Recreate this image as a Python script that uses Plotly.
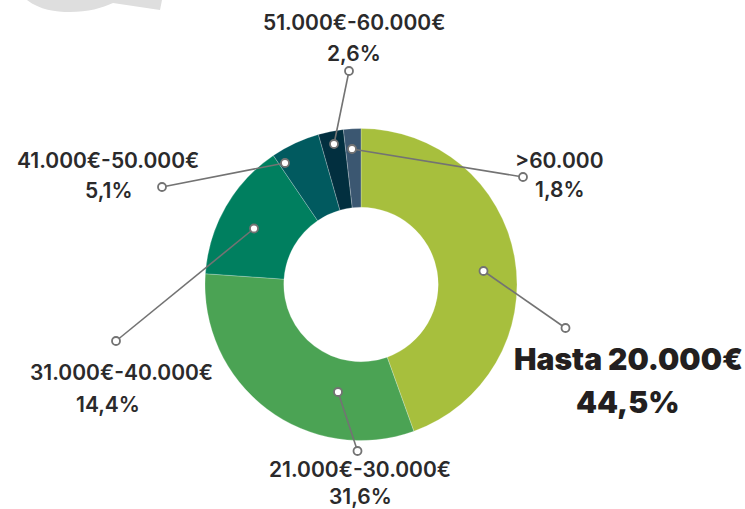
import plotly.graph_objects as go

# ---- data ----
categories = ["Hasta 20.000€", "21.000€-30.000€", "31.000€-40.000€",
              "41.000€-50.000€", "51.000€-60.000€", ">60.000"]
values = [44.5, 31.6, 14.4, 5.1, 2.6, 1.8]
pct_labels = ["44,5%", "31,6%", "14,4%", "5,1%", "2,6%", "1,8%"]

# ---- styles / layout config ----
colors = ["#a7bf3d", "#4ba354", "#007f5f", "#015a5f", "#022f3f", "#3b5771"]
W, H = 745, 509
cx, cy, R = 361, 284.5, 156

# leader lines: (inner point, outer point) in pixel space
leaders = [
    ((483.5, 271), (565.5, 328)),
    ((338, 392), (357.5, 451)),
    ((254, 228.5), (116, 341)),
    ((285, 163), (162, 187)),
    ((334, 144), (349, 71)),
    ((352, 149), (523, 177)),
]
# label positions: ((x, y) of name, (x, y) of percentage)
label_pos = [
    ((628, 359), (628, 402)),
    ((360, 469), (360, 496)),
    ((121, 372), (108, 404)),
    ((108, 160), (109, 190)),
    ((354, 22), (354, 53)),
    ((559, 160), (560, 189)),
]
text_color = "#2b2a2b"
line_color = "#737373"

fig = go.Figure()

fig.add_trace(go.Pie(
    labels=categories, values=values, sort=False, direction="clockwise",
    rotation=0, hole=0.495, textinfo="none", hoverinfo="label+percent",
    marker=dict(colors=colors, line=dict(color="rgba(255,255,255,0.4)", width=0.6)),
    domain=dict(x=[(cx - R) / W, (cx + R) / W],
                y=[(H - cy - R) / H, (H - cy + R) / H]),
    showlegend=False,
))

# invisible trace to activate the cartesian pixel axes
fig.add_trace(go.Scatter(x=[0, W], y=[0, H], mode="markers",
                         marker=dict(opacity=0), hoverinfo="skip", showlegend=False))

mr = 4
for (p0, p1) in leaders:
    fig.add_shape(type="line", x0=p0[0], y0=p0[1], x1=p1[0], y1=p1[1],
                  xref="x", yref="y", layer="above",
                  line=dict(color=line_color, width=1.6))
    for (px, py) in (p0, p1):
        fig.add_shape(type="circle", x0=px - mr, y0=py - mr, x1=px + mr, y1=py + mr,
                      xref="x", yref="y", layer="above", fillcolor="white",
                      line=dict(color=line_color, width=1.8))

for i, (cat, pct) in enumerate(zip(categories, pct_labels)):
    (nx, ny), (px, py) = label_pos[i]
    big = i == 0
    fnt = dict(family="Inter, Roboto, 'Open Sans', sans-serif",
               size=30 if big else 21, color="#231f20" if big else text_color,
               weight=900 if big else 600)
    fig.add_annotation(x=nx, y=ny, text=cat, showarrow=False, font=fnt,
                       xanchor="center", yanchor="middle")
    fig.add_annotation(x=px, y=py, text=pct, showarrow=False, font=fnt,
                       xanchor="center", yanchor="middle")

# decorative grey blob at the top-left
blob = ("M 27,-2 L 27,0 C 40,10 55,12 70,12 C 88,12 102,8 113,3 "
        "L 160,10 L 162,0 L 162,-2 Z")
fig.add_shape(type="path", path=blob, xref="x", yref="y",
              fillcolor="#dedede", line=dict(width=0), layer="below")

fig.update_layout(
    width=W, height=H, margin=dict(l=0, r=0, t=0, b=0),
    paper_bgcolor="white", plot_bgcolor="rgba(0,0,0,0)",
    xaxis=dict(range=[0, W], visible=False, fixedrange=True),
    yaxis=dict(range=[H, 0], visible=False, fixedrange=True),
)

fig.write_html("out.html", config={"displayModeBar": False},
               post_script="document.body.style.margin='0';document.body.style.padding='0';")
